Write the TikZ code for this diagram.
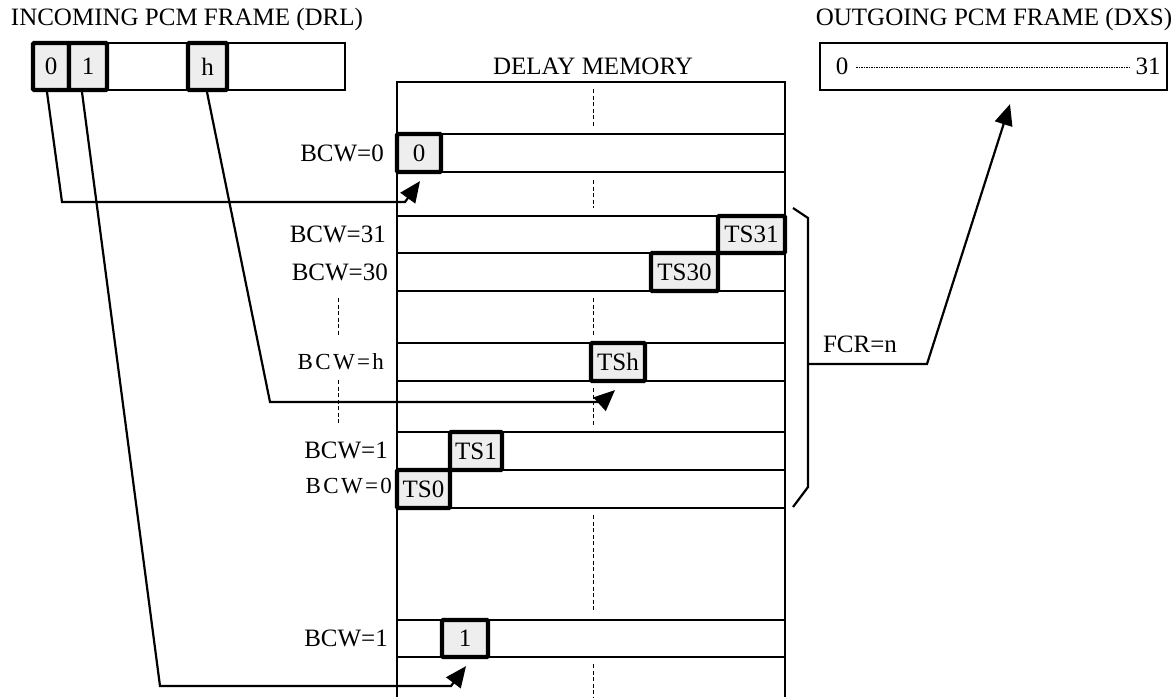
\documentclass[tikz,border=0pt]{standalone}
\usepackage{fontspec}
\setmainfont{Liberation Serif}
\newfontfamily\spacedfont[LetterSpace=10]{Liberation Serif}
\usetikzlibrary{arrows.meta,calc}
\definecolor{cellgray}{HTML}{EEEEEE}
\begin{document}
\begin{tikzpicture}[x=1pt,y=-1pt,
  font=\fontsize{25}{30}\selectfont,
  thinline/.style={line width=2.2pt},
  frame/.style={draw, line width=2.2pt, inner sep=0pt},
  cell/.style={draw, line width=4.2pt, fill=cellgray, inner sep=0pt, rounded corners=1pt},
  lbl/.style={anchor=east, inner sep=0pt},
  slbl/.style={anchor=east, inner sep=0pt, font=\fontsize{23}{28}\spacedfont},
  cdash/.style={line width=0.9pt, dash pattern=on 4pt off 2.5pt},
  fdot/.style={line width=0.8pt, dash pattern=on 1.5pt off 1pt},
  conn/.style={line width=2.2pt, -{Triangle[length=21pt,width=18pt]}},
]
\useasboundingbox (0,0) rectangle (1176,697);

% titles
\node (intitle) at (187,19) {INCOMING PCM FRAME (DRL)};
\node (outtitle) at (994,19) {OUTGOING PCM FRAME (DXS)};
\node (memtitle) at (593,66) {DELAY MEMORY};

% incoming frame
\node[frame, minimum width=312pt, minimum height=47pt] (inframe) at (189,66.5) {};
\node[cell, minimum width=36pt, minimum height=47pt] (c0) at (51,66.5) {0};
\node[cell, minimum width=38pt, minimum height=47pt] (c1) at (88,66.5) {1};
\node[cell, minimum width=39pt, minimum height=47pt] (ch) at (207.5,66.5) {h};

% outgoing frame
\node[frame, minimum width=347pt, minimum height=47pt] (outframe) at (993.5,66.5) {};
\node[inner sep=0pt] (o0) at (842,66) {0};
\node[inner sep=0pt] (o31) at (1148,66) {31};
\draw[fdot] ($(o0.east)+(8,1)$) -- ($(o31.west)+(-6,1)$);

% delay memory outline
\draw[thinline] (397,697) -- (397,82) -- (785,82) -- (785,697);
\foreach \yy in {134,172,216,253,291,343,381,432,470,508,620,657}
  \draw[thinline] (397,\yy) -- (785,\yy);

% dashed centre lines
\foreach \ya/\yb in {89/127,180/208,298/336,388/425,515/612,664/697}
  \draw[cdash] (593,\ya) -- (593,\yb);
\foreach \ya/\yb in {298/335,380/425}
  \draw[cdash] (338,\ya) -- (338,\yb);

% memory cells
\node[cell, minimum width=44pt, minimum height=38pt] (m0) at (419,153) {0};
\node[cell, minimum width=67pt, minimum height=37pt] (ts31) at (751.5,234.5) {TS31};
\node[cell, minimum width=67pt, minimum height=38pt] (ts30) at (684.5,272) {TS30};
\node[cell, minimum width=54pt, minimum height=38pt] (tsh) at (618,362) {TSh};
\node[cell, minimum width=52pt, minimum height=38pt] (ts1) at (476,451) {TS1};
\node[cell, minimum width=53pt, minimum height=38pt] (ts0) at (423.5,489) {TS0};
\node[cell, minimum width=46pt, minimum height=37pt] (m1) at (465,638.5) {1};

% labels
\node[lbl] (l1) at (384,153) {BCW=0};
\node[lbl] (l2) at (386,234) {BCW=31};
\node[lbl] (l3) at (388,272) {BCW=30};
\node[slbl] (l4) at (384,362) {BCW=h};
\node[lbl] (l5) at (388,450) {BCW=1};
\node[slbl] (l6) at (392,486) {BCW=0};
\node[lbl] (l7) at (388,638) {BCW=1};

% connectors from incoming frame
\draw[conn] ($(c0.south)+(-4,0)$) -- (62,202) -- (405,202) -- ($(m0.south)+(1,7)$);
\draw[conn] ($(ch.south)+(-0.5,0)$) -- (270,402) -- (602,402) -- ($(tsh.south)+(-3,7)$);
\draw[conn] ($(c1.south)+(-6,0)$) -- (160,686) -- (451,686) -- ($(m1.south)+(1,7)$);

% FCR brace
\coordinate (bmid) at (808,364);
\draw[thinline] (793,208) -- (808,218) -- (808,487) -- (793,507);
\node (fcr) at (860,344) {FCR=n};
\draw[conn] (bmid) -- (927,364) -- ($(outframe.south)+(16.5,13)$);
\end{tikzpicture}
\end{document}
